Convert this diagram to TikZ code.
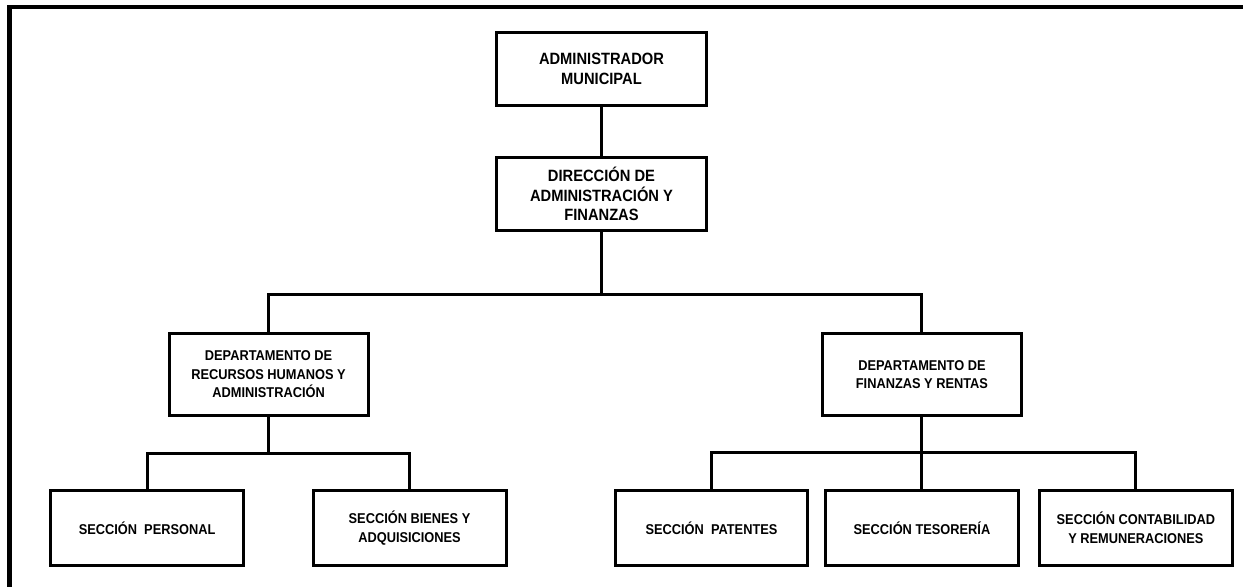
\documentclass[tikz,border=0pt]{standalone}
\usepackage{fontspec}
\newfontfamily\orgfont{Liberation Sans}[FakeStretch=0.9]
\usetikzlibrary{positioning}

\begin{document}
\begin{tikzpicture}[x=0.02cm,y=0.02cm,inner sep=0pt,outer sep=0pt]
\tikzstyle{main}=[rectangle, draw=black, line width=1.7pt, align=center, minimum width=4.22cm, minimum height=1.46cm, font=\orgfont\bfseries\fontsize{9.3}{11.3}\selectfont]
\tikzstyle{dept}=[main, minimum width=3.98cm, minimum height=1.64cm, font=\orgfont\bfseries\fontsize{8.1}{10.5}\selectfont]
\tikzstyle{sect}=[dept, minimum width=3.86cm, minimum height=1.5cm]
\tikzstyle{connect}=[line width=1.7pt]
\tikzstyle{frame}=[line width=2.3pt]
\useasboundingbox (0,0) rectangle (1243,-587);
\draw[frame] (9.5,-587) -- (9.5,-7.3) -- (1243,-7.3);
\node[main] (adm) at (601.5,-69) {ADMINISTRADOR\\MUNICIPAL};
\node[main] (dir) [below=1.04cm of adm] {DIRECCIÓN DE\\ADMINISTRACIÓN Y\\FINANZAS};
\node[dept] (rrhh) [below=2.06cm of dir,xshift=-6.66cm] {DEPARTAMENTO DE\\RECURSOS HUMANOS Y\\ADMINISTRACIÓN};
\node[dept] (fin) [below=2.06cm of dir,xshift=6.41cm] {DEPARTAMENTO DE\\FINANZAS Y RENTAS};
\node[sect] (pers) [below=1.5cm of rrhh,xshift=-2.43cm] {SECCIÓN~~PERSONAL};
\node[sect] (bien) [below=1.5cm of rrhh,xshift=2.82cm] {SECCIÓN BIENES Y\\ADQUISICIONES};
\node[sect] (pat) [below=1.5cm of fin,xshift=-4.21cm] {SECCIÓN~~PATENTES};
\node[sect] (tes) [below=1.5cm of fin] {SECCIÓN TESORERÍA};
\node[sect] (cont) [below=1.5cm of fin,xshift=4.28cm] {SECCIÓN CONTABILIDAD\\Y REMUNERACIONES};
\coordinate[below=1.28cm of dir] (bus);
\coordinate[below=0.76cm of rrhh] (rbus);
\coordinate[below=0.74cm of fin] (fbus);
\path (adm) edge[connect] (dir);
\path (dir) edge[connect] (bus);
\draw[connect] (rrhh) |- (bus) -| (fin);
\path (rrhh) edge[connect] (rbus);
\draw[connect] (pers) |- (rbus) -| (bien);
\path (fin) edge[connect] (tes);
\draw[connect] (pat) |- (fbus) -| (cont);
\end{tikzpicture}
\end{document}
